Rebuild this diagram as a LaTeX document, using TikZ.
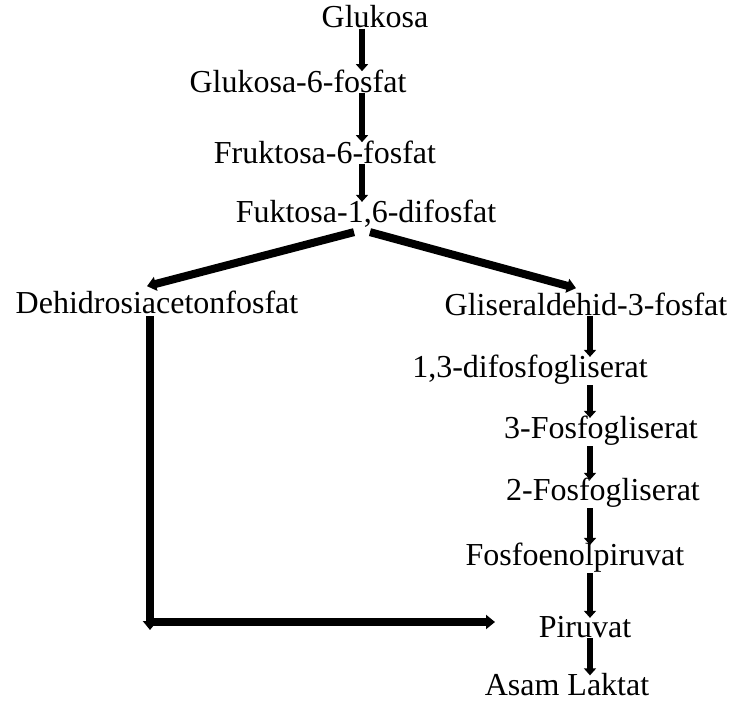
\documentclass[tikz,border=0pt]{standalone}
\usepackage{fontspec}
\setmainfont{Liberation Serif}
\usetikzlibrary{arrows.meta,calc}
\tikzset{
  met/.style  = {inner sep=1pt,font=\fontsize{16}{19}\selectfont},
  step1/.style = {-{Triangle[length=3.5pt,width=6pt]},line width=2.6pt,
                  shorten <=-1pt,shorten >=-2pt},
  fat/.style  = {-{Triangle[length=4.5pt,width=7pt]},line width=4pt},
}
\begin{document}
\begin{tikzpicture}[x=0.5pt,y=-0.5pt]
  \useasboundingbox (0,0) rectangle (729,702);
  % upper chain
  \node[met] (glc)  at (375,17)  {Glukosa};
  \node[met] (g6p)  at (298,81)  {Glukosa-6-fosfat};
  \node[met] (f6p)  at (325,152) {Fruktosa-6-fosfat};
  \node[met] (fbp)  at (366,214) {Fuktosa-1,6-difosfat};
  \coordinate (spine) at (362,0);
  \draw[step1] (glc.south -| spine) -- (g6p.north -| spine);
  \draw[step1] (g6p.south -| spine) -- (f6p.north -| spine);
  \draw[step1] (f6p.south -| spine) -- (fbp.north -| spine);

  % split
  \node[met] (dhap) at (157,302) {Dehidrosiacetonfosfat};
  \node[met] (gap)  at (586,304) {Gliseraldehid-3-fosfat};
  \draw[fat] ($(fbp.south)+(-12,2)$) -- ($(dhap.north)+(-10,-2)$);
  \draw[fat] ($(fbp.south)+(4,2)$) -- ($(gap.north)+(-10,-2)$);

  % lower chain
  \node[met] (bpg)  at (530,370) {1,3-difosfogliserat};
  \node[met] (pg3)  at (601,431) {3-Fosfogliserat};
  \node[met] (pg2)  at (603,493) {2-Fosfogliserat};
  \node[met] (pep)  at (575,558) {Fosfoenolpiruvat};
  \node[met] (pyr)  at (585,627) {Piruvat};
  \node[met] (lac)  at (567,685) {Asam Laktat};
  \coordinate (rspine) at (590,0);
  \draw[step1] (gap.south -| rspine) -- (bpg.north -| rspine);
  \draw[step1] (bpg.south -| rspine) -- (pg3.north -| rspine);
  \draw[step1] (pg3.south -| rspine) -- (pg2.north -| rspine);
  \draw[step1] (pg2.south -| rspine) -- (pep.north -| rspine);
  \draw[step1] (pep.south -| rspine) -- (pyr.north -| rspine);
  \draw[step1] (pyr.south -| rspine) -- (lac.north -| rspine);

  % DHAP side route
  \coordinate (corner) at (150,622);
  \coordinate (pyin)   at (495,622);
  \draw[fat] (dhap.south -| corner) -- ($(corner)+(0,8)$);
  \draw[fat] (corner) -- (pyin);
\end{tikzpicture}
\end{document}
